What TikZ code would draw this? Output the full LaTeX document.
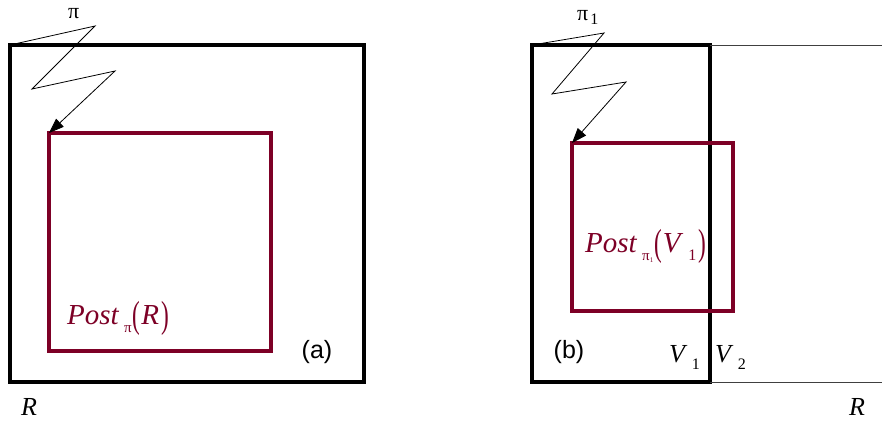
\documentclass[tikz,border=0pt]{standalone}
\usepackage{fontspec}
\usepackage{graphicx}
\setmainfont{Liberation Serif}
\newfontfamily\capfont{Liberation Sans}
\usetikzlibrary{arrows.meta}

\definecolor{postred}{RGB}{125,0,38}
\newcommand{\lowidx}[2][-0.3em]{\raisebox{#1}{\fontsize{16}{16}\selectfont #2}}
\newcommand{\tinyidx}[1]{\raisebox{-0.3em}{\fontsize{15}{15}\selectfont #1}}
\newcommand{\lpar}{\kern1pt\raisebox{-0.12em}{\scalebox{0.8}[1.3]{(}}\kern1pt}
\newcommand{\rpar}{\kern2pt\raisebox{-0.12em}{\scalebox{0.8}[1.3]{)}}}

\tikzset{
  region/.style={draw, line width=4pt, inner sep=0pt, outer sep=0pt},
  postbox/.style={draw=postred, line width=3.3pt, inner sep=0pt, outer sep=0pt},
  txt/.style={inner sep=0pt, anchor=base west, font=\fontsize{26}{26}\selectfont},
  posttxt/.style={txt, text=postred, font=\fontsize{29}{29}\selectfont},
  captxt/.style={inner sep=0pt, font=\capfont\fontsize{25}{25}\selectfont},
  policy/.style={line width=0.8pt, -{Triangle[length=15pt,width=11pt]}}
}

\begin{document}
\begin{tikzpicture}[x=1pt, y=-1pt]
\useasboundingbox (0,0) rectangle (882,421);

% (a)
\node[region, minimum width=354pt, minimum height=337pt] (Ra) at (187,213.5) {};
\node[postbox, minimum width=222pt, minimum height=218pt] (posta) at (160,242) {};
\draw[policy] (Ra.north west) -- (95,26) -- (32,89) -- (115,71) -- (posta.north west);
\node[txt, font=\fontsize{22}{22}\selectfont] (pia) at (68,18) {π};
\node[posttxt] (postlabela) at (67,324) {\textit{Post}\,\tinyidx{π}\lpar\textit{R}\rpar};
\node[captxt] (capa) at (317,352) {(a)};
\node[txt] (rlabela) at (21,415) {\textit{R}};

% (b)
\node[region, minimum width=178pt, minimum height=337pt] (V1) at (621,213.5) {};
\node[postbox, minimum width=161pt, minimum height=168pt] (postb) at (652.5,227) {};
\coordinate (topend) at (882,45);
\coordinate (botend) at (882,382);
\draw[line width=0.8pt, black!75] (V1.north east) -- (topend);
\draw[line width=0.8pt, black!75] (V1.south east) -- (botend);
\draw[policy] (V1.north west) -- (604,33) -- (552,94) -- (626,82) -- (postb.north west);
\node[txt, font=\fontsize{22}{22}\selectfont] (pib) at (577,20) {π\kern2pt\lowidx[-0.2em]{1}};
\node[posttxt] (postlabelb) at (585,252) {\textit{Post}\,\tinyidx{π\raisebox{-0.15em}{\fontsize{7}{7}\selectfont 1}}\lpar\textit{V}\,\lowidx{1}\rpar};
\node[captxt] (capb) at (569,352) {(b)};
\node[txt] (v1label) at (669,362) {\textit{V}\,\lowidx{1}};
\node[txt] (v2label) at (715,362) {\textit{V}\,\lowidx{2}};
\node[txt] (rlabelb) at (849,415) {\textit{R}};
\end{tikzpicture}
\end{document}
